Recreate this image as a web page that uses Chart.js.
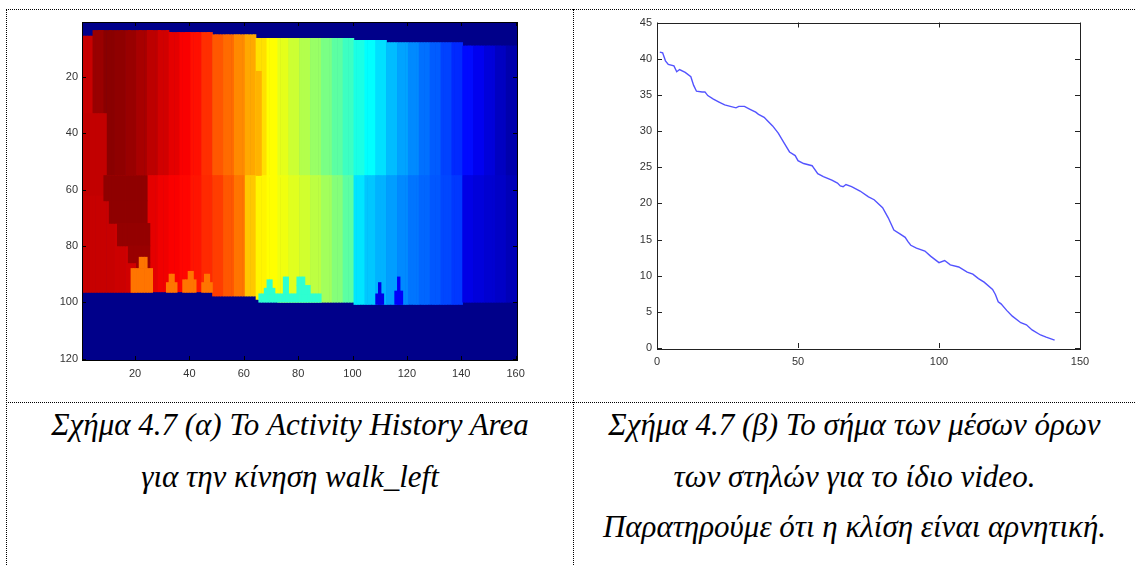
<!DOCTYPE html>
<html lang="el">
<head>
<meta charset="utf-8">
<title>Σχήμα 4.7</title>
<script src="https://cdn.jsdelivr.net/npm/chart.js@4.4.1/dist/chart.umd.min.js"></script>
<style>
  html, body { margin: 0; padding: 0; background: #fff; }
  body { width: 1135px; height: 565px; position: relative; overflow: hidden; }
  .hline { position: absolute; height: 0; border-top: 1px dotted #000; }
  .vline { position: absolute; width: 0; border-left: 1px dotted #000; }
  .cap {
    position: absolute; text-align: center; white-space: nowrap;
    font-family: "Liberation Serif", "Times New Roman", serif;
    font-style: italic; font-size: 31px; line-height: 40px; color: #000;
  }
  #cvMhi { position: absolute; left: 30px; top: 10px; }
  #cvMean { position: absolute; left: 600px; top: 10px; }
</style>
</head>
<body>

<div class="hline" style="left:6px; top:9px; width:1129px;"></div>
<div class="hline" style="left:6px; top:402px; width:1129px;"></div>
<div class="vline" style="left:6px; top:9px; height:556px;"></div>
<div class="vline" style="left:573px; top:9px; height:556px;"></div>

<canvas id="cvMhi" width="520" height="380"></canvas>
<canvas id="cvMean" width="520" height="370"></canvas>

<div class="cap" style="left:7px; width:566px; top:405px;">Σχήμα 4.7 (α) Το Activity History Area</div>
<div class="cap" style="left:7px; width:566px; top:457px;">για την κίνηση walk_left</div>
<div class="cap" style="left:574px; width:561px; top:405px;">Σχήμα 4.7 (β) Το σήμα των μέσων όρων</div>
<div class="cap" style="left:574px; width:561px; top:457px;">των στηλών για το ίδιο video.</div>
<div class="cap" style="left:574px; width:561px; top:507px;">Παρατηρούμε ότι η κλίση είναι αρνητική.</div>

<script>
// ---------- (α) Activity History Area, walk_left : εικόνα 160 x 120 ----------
const mhiXTicks = [20, 40, 60, 80, 100, 120, 140, 160];
const mhiYTicks = [20, 40, 60, 80, 100, 120];
const mhiCols = 160;
const mhiRows = 120;
const mhiGroup = 4;          // στήλες ανά ομάδα
const mhiSplitRow = 55;      // όριο άνω / κάτω τμήματος σιλουέτας
const mhiBackground = 0.01;  // τιμή φόντου

// ανά ομάδα 4 στηλών (40 ομάδες)
const mhiTopRow = [5.5, 3.5, 3.5, 3.5, 3.5, 3.5, 3.5, 3.5, 4.2, 4.2,
                   4.2, 4.2, 5.0, 5.0, 5.0, 5.0, 6.3, 6.3, 6.3, 6.3,
                   6.3, 6.3, 6.3, 6.3, 6.3, 7.0, 7.0, 7.0, 7.8, 7.8,
                   7.8, 7.8, 7.8, 7.8, 7.8, 9.0, 9.0, 9.0, 9.0, 9.0];
const mhiBottomRow = [96.5, 96.5, 96.5, 96.5, 96.5, 96.3, 96.3, 96.3, 96.3, 96.3,
                      96.3, 96.3, 97.8, 97.8, 97.8, 97.8, 99.0, 99.0, 100.0, 100.0,
                      100.0, 100.0, 100.0, 100.0, 100.0, 100.8, 100.8, 100.8, 100.8, 100.8,
                      100.8, 100.8, 100.8, 100.8, 100.8, 100.0, 100.0, 100.0, 100.0, 100.0];
const mhiUpperVal = [0.93, 0.975, 0.99, 0.985, 0.975, 0.96, 0.94, 0.92, 0.90, 0.88,
                     0.86, 0.83, 0.79, 0.77, 0.74, 0.71, 0.655, 0.625, 0.60, 0.575,
                     0.55, 0.525, 0.495, 0.465, 0.435, 0.40, 0.375, 0.345, 0.31, 0.285,
                     0.26, 0.235, 0.215, 0.19, 0.165, 0.135, 0.11, 0.09, 0.065, 0.045];
const mhiLowerVal = [0.93, 0.93, 0.93, 0.925, 0.92, 0.91, 0.90, 0.89, 0.88, 0.87,
                     0.855, 0.835, 0.815, 0.79, 0.76, 0.68, 0.635, 0.625, 0.61, 0.595,
                     0.58, 0.56, 0.535, 0.505, 0.465, 0.35, 0.32, 0.30, 0.28, 0.26,
                     0.24, 0.225, 0.21, 0.195, 0.18, 0.10, 0.09, 0.08, 0.07, 0.055];

// λεπτομέρειες (σκούρα λωρίδα, "φλόγες" ποδιών κτλ)
const detailColFrom = [2, 9, 11, 14, 18, 21,
                       22, 19, 33, 32, 40, 38, 46, 45,
                       65,
                       66, 69, 68, 75, 80, 80,
                       110, 109, 117, 116];
const detailColTo   = [9, 24, 24, 25, 25, 25,
                       24, 26, 34, 35, 41, 42, 47, 48,
                       66,
                       88, 70, 71, 76, 82, 84,
                       110, 111, 117, 118];
const detailRowFrom = [33, 55, 64, 72, 80, 86,
                       84, 88, 90, 93, 89, 92, 90, 93,
                       18,
                       97, 92, 95, 91, 91, 94,
                       93, 97, 91, 96];
const detailRowTo   = [62, 64, 72, 80, 86, 90,
                       88, 96.5, 93, 96.5, 92, 96.5, 93, 96.5,
                       55,
                       100, 97, 97, 97, 94, 97,
                       100.8, 100.8, 100.8, 100.8];
const detailVal     = [0.935, 0.985, 0.985, 0.98, 0.975, 0.97,
                       0.76, 0.76, 0.76, 0.76, 0.76, 0.76, 0.76, 0.76,
                       0.70,
                       0.42, 0.42, 0.42, 0.42, 0.42, 0.42,
                       0.10, 0.10, 0.12, 0.12];

// ---------- (β) μέσος όρος ανά στήλη ----------
const columnIdx = [1, 2, 3, 4, 6, 7, 8, 10, 12, 13, 14, 16, 17, 18, 20, 22, 24, 26, 28, 29,
                   31, 33, 35, 36, 38, 39, 41, 43, 45, 47, 49, 50, 52, 55, 57, 59, 62, 64, 65, 66,
                   67, 69, 72, 75, 77, 80, 82, 84, 86, 88, 89, 90, 92, 95, 97, 100, 102, 104, 107, 110,
                   112, 114, 116, 119, 120, 121, 122, 124, 126, 129, 131, 133, 136, 138, 141];
const columnMean = [40.9, 40.8, 39.7, 39.2, 39.0, 38.2, 38.5, 38.1, 37.5, 36.3, 35.5, 35.4, 35.4, 34.9, 34.4, 34.0, 33.6, 33.4, 33.2, 33.4,
                    33.4, 33.0, 32.6, 32.3, 31.9, 31.5, 30.7, 29.7, 28.4, 27.1, 26.6, 25.9, 25.5, 25.2, 24.1, 23.7, 23.2, 22.8, 22.4, 22.3,
                    22.6, 22.3, 21.7, 20.9, 20.5, 19.4, 18.0, 16.3, 15.8, 15.3, 14.7, 14.2, 13.8, 13.4, 12.7, 11.8, 12.1, 11.5, 11.2, 10.5,
                    10.2, 9.6, 9.1, 8.1, 7.4, 6.4, 6.1, 5.2, 4.4, 3.5, 3.2, 2.5, 1.8, 1.5, 1.1];
const meanXTicks = [0, 50, 100, 150];
const meanYMax = 45;

// MATLAB jet colormap
function jet(v) {
    const c = t => Math.round(255 * Math.min(1, Math.max(0, t)));
    const r = c(1.5 - Math.abs(4 * v - 3));
    const g = c(1.5 - Math.abs(4 * v - 2));
    const b = c(1.5 - Math.abs(4 * v - 1));
    return `rgb(${r},${g},${b})`;
}

// πλαίσιο και εσωτερικά ticks τύπου MATLAB
const matlabAxes = {
    id: 'matlabAxes',
    beforeDatasetsDraw(chart, args, opts) {
        if (!opts.background) return;
        const { ctx, chartArea: a } = chart;
        ctx.save();
        ctx.fillStyle = opts.background;
        ctx.fillRect(a.left, a.top, a.right - a.left, a.bottom - a.top);
        ctx.restore();
    },
    afterDraw(chart, args, opts) {
        const { ctx, chartArea: a, scales } = chart;
        const len = opts.tickLen || 5;
        ctx.save();
        ctx.strokeStyle = opts.color || '#222';
        ctx.lineWidth = 1;
        ctx.beginPath();
        scales.x.ticks.forEach(t => {
            const px = Math.round(scales.x.getPixelForValue(t.value)) + 0.5;
            ctx.moveTo(px, a.bottom); ctx.lineTo(px, a.bottom - len);
            ctx.moveTo(px, a.top); ctx.lineTo(px, a.top + len);
        });
        scales.y.ticks.forEach(t => {
            const py = Math.round(scales.y.getPixelForValue(t.value)) + 0.5;
            ctx.moveTo(a.left, py); ctx.lineTo(a.left + len, py);
            ctx.moveTo(a.right, py); ctx.lineTo(a.right - len, py);
        });
        ctx.stroke();
        ctx.strokeRect(Math.round(a.left) + 0.5, Math.round(a.top) + 0.5,
                       Math.round(a.right - a.left), Math.round(a.bottom - a.top));
        ctx.restore();
    }
};

const tickFont = { family: '"Liberation Sans", Arial, Helvetica, sans-serif', size: 11 };
const tickColor = '#333';

// --- πίνακας μπαρών για την εικόνα ---
function buildMhiBars() {
    const body = [], bodyColors = [];
    mhiUpperVal.forEach((v, g) => {
        for (let k = 1; k <= mhiGroup; k++) {
            body.push({ x: g * mhiGroup + k, y: [mhiTopRow[g], mhiSplitRow + 0.5] });
            bodyColors.push(jet(v));
        }
    });
    mhiLowerVal.forEach((v, g) => {
        for (let k = 1; k <= mhiGroup; k++) {
            body.push({ x: g * mhiGroup + k, y: [mhiSplitRow, mhiBottomRow[g]] });
            bodyColors.push(jet(v));
        }
    });
    const detail = [], detailColors = [];
    detailVal.forEach((v, i) => {
        for (let c = detailColFrom[i]; c <= detailColTo[i]; c++) {
            detail.push({ x: c, y: [detailRowFrom[i], detailRowTo[i]] });
            detailColors.push(jet(v));
        }
    });
    return { body, bodyColors, detail, detailColors };
}

function renderMhi() {
    const bars = buildMhiBars();
    const barStyle = { barPercentage: 1, categoryPercentage: 1, grouped: false, borderWidth: 0 };

    new Chart(document.getElementById('cvMhi'), {
        type: 'bar',
        data: {
            datasets: [
                // order: μικρότερο = σχεδιάζεται από πάνω
                { data: bars.body, backgroundColor: bars.bodyColors, order: 2, ...barStyle },
                { data: bars.detail, backgroundColor: bars.detailColors, order: 1, ...barStyle }
            ]
        },
        options: {
            responsive: false,
            animation: false,
            events: [],
            layout: { padding: { top: 12, right: 33, left: 0, bottom: 0 } },
            plugins: {
                legend: { display: false },
                tooltip: { enabled: false },
                matlabAxes: { background: jet(mhiBackground), color: '#000', tickLen: 4 }
            },
            scales: {
                x: {
                    type: 'linear', offset: false, min: 0.5, max: mhiCols + 0.5,
                    afterBuildTicks: s => { s.ticks = mhiXTicks.map(v => ({ value: v })); },
                    afterFit: s => { s.height = 30; },
                    ticks: { font: tickFont, color: tickColor, padding: 7, maxRotation: 0 },
                    grid: { display: false, drawTicks: false },
                    border: { display: false }
                },
                y: {
                    type: 'linear', reverse: true, min: 0.5, max: mhiRows + 0.5,
                    afterBuildTicks: s => { s.ticks = mhiYTicks.map(v => ({ value: v })); },
                    afterFit: s => { s.width = 52; },
                    ticks: { font: tickFont, color: tickColor, padding: 4 },
                    grid: { display: false, drawTicks: false },
                    border: { display: false }
                }
            }
        },
        plugins: [matlabAxes]
    });
}

function renderMean() {
    new Chart(document.getElementById('cvMean'), {
        type: 'scatter',
        data: {
            datasets: [{
                data: columnIdx.map((c, i) => ({ x: c, y: columnMean[i] })),
                showLine: true,
                borderColor: 'rgba(40, 40, 255, 0.8)',
                borderWidth: 1.4,
                pointRadius: 0,
                tension: 0
            }]
        },
        options: {
            responsive: false,
            animation: false,
            events: [],
            layout: { padding: { top: 12.5, right: 40, left: 0, bottom: 0 } },
            plugins: {
                legend: { display: false },
                tooltip: { enabled: false },
                matlabAxes: { color: '#222', tickLen: 5 }
            },
            scales: {
                x: {
                    type: 'linear', min: meanXTicks[0], max: meanXTicks[meanXTicks.length - 1],
                    afterBuildTicks: s => { s.ticks = meanXTicks.map(v => ({ value: v })); },
                    afterFit: s => { s.height = 32; },
                    ticks: { font: tickFont, color: tickColor, padding: 7, maxRotation: 0 },
                    grid: { display: false, drawTicks: false },
                    border: { display: false }
                },
                y: {
                    type: 'linear', min: 0, max: meanYMax,
                    ticks: { stepSize: 5, font: tickFont, color: tickColor, padding: 5 },
                    afterFit: s => { s.width = 57; },
                    grid: { display: false, drawTicks: false },
                    border: { display: false }
                }
            }
        },
        plugins: [matlabAxes]
    });
}

renderMhi();
renderMean();
</script>
</body>
</html>
